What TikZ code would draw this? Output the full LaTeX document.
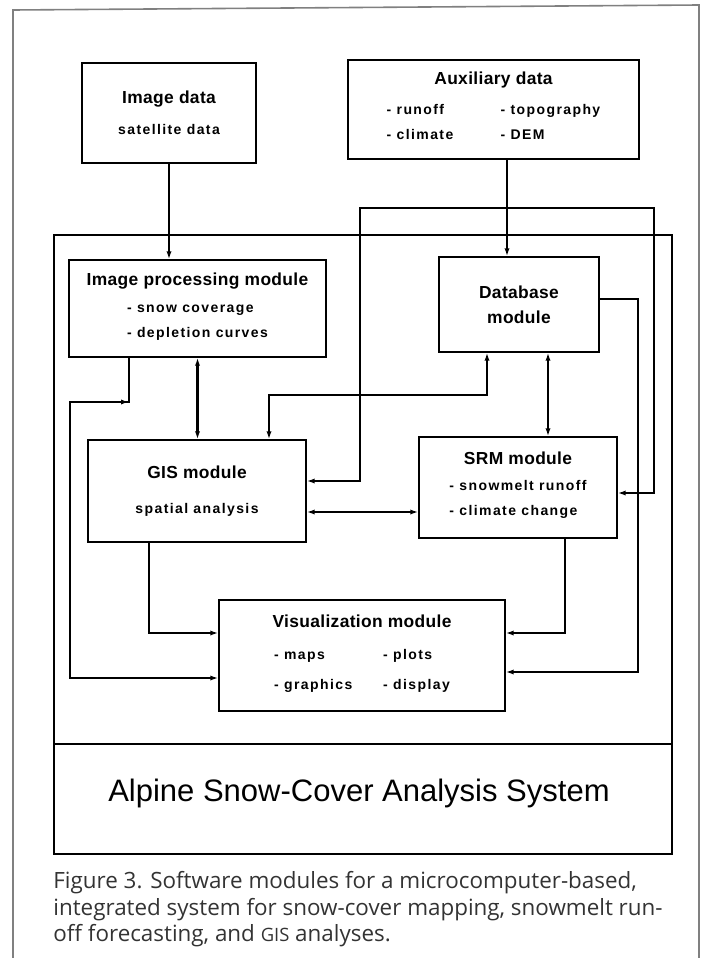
\documentclass[tikz,border=0pt]{standalone}
\usepackage{fontspec}
\usepackage{tikz}
\usetikzlibrary{arrows.meta}
\setmainfont{Liberation Sans}
\newfontfamily\titlefamily[LetterSpace=2]{Liberation Sans}
\newfontfamily\itemfamily[LetterSpace=10]{Liberation Sans}
\newfontfamily\captionfamily{Open Sans}
\newcommand{\modtitle}{\titlefamily\bfseries\fontsize{8.7}{12.5}\selectfont}
\newcommand{\moditems}{\itemfamily\bfseries\fontsize{7}{12.5}\selectfont}

\begin{document}
\begin{tikzpicture}[x=0.5pt,y=-0.5pt,>={Latex[length=4pt,width=2.6pt]},
    modbox/.style={draw, line width=0.7pt, fill=white, align=center, inner sep=0pt, font=\moditems},
    link/.style={line width=1.1pt},
    sysframe/.style={line width=1.4pt},
    pageframe/.style={draw=black!50, line width=0.8pt}]
        \useasboundingbox (0,0) rectangle (705,958);
        % page and system frames
        \draw[pageframe] (13,958) -- (13,10) -- (699,5) -- (699,958);
        \draw[sysframe] (54,235) rectangle (672,854);
        \draw[sysframe] (54,744) -- (672,744);
        \node[font=\fontsize{15.5}{18}\selectfont, anchor=base] (system) at (359,801) {Alpine Snow-Cover Analysis System};
        % data sources
        \node[modbox, minimum width=87pt, minimum height=50pt] (imgdata) at (169,113) {{\modtitle Image data}\\[3pt] satellite data};
        \node[modbox, minimum width=145.5pt, minimum height=49.5pt] (auxdata) at (493.5,109.5) {{\modtitle Auxiliary data}\\[2.5pt]
            \begin{tabular}[t]{@{}l@{}}\makebox[57pt][l]{- runoff}- topography\\ \makebox[57pt][l]{- climate}- DEM\end{tabular}};
        % modules
        \node[modbox, minimum width=128.5pt, minimum height=48.5pt] (imgproc) at (197.5,308.5) {{\modtitle Image processing module}\\[1pt]
            \begin{tabular}[t]{@{}l@{}}- snow coverage\\ - depletion curves\end{tabular}};
        \node[modbox, minimum width=80pt, minimum height=47.5pt, font=\modtitle] (database) at (519,304.5) {Database\\ module};
        \node[modbox, minimum width=109pt, minimum height=51pt] (gis) at (197,491) {{\modtitle GIS module}\\[5pt] spatial analysis};
        \node[modbox, minimum width=99pt, minimum height=50.5pt] (srm) at (518,487.5) {{\modtitle SRM module}\\[0.5pt]
            \begin{tabular}[t]{@{}l@{}}- snowmelt runoff\\ - climate change\end{tabular}};
        \node[modbox, minimum width=143pt, minimum height=55.5pt] (viz) at (362,655.5) {{\modtitle Visualization module}\\[3.5pt]
            \begin{tabular}[t]{@{}l@{}}\makebox[54.5pt][l]{- maps}- plots\\[2.5pt] \makebox[54.5pt][l]{- graphics}- display\end{tabular}};
        % routing points
        \coordinate (auxtap) at (507,208);
        \coordinate (loopL) at (360,208);
        \coordinate (loopR) at (654,208);
        \coordinate (ipbend) at (129,402);
        \coordinate (ipleft) at (70,402);
        \coordinate (gsrow) at (0,512);
        % connectors
        \draw[link,->] (imgdata.south) -- (imgdata.south |- imgproc.north);
        \draw[link,->] (auxdata.south -| auxtap) -- (database.north -| auxtap);
        \draw[link,->] (auxtap) -- (loopL) |- ([yshift=5pt]gis.east);
        \draw[link,->] (auxtap) -- (loopR) |- ([yshift=-2.75pt]srm.east);
        \draw[link,<->] (imgproc.south) -- (imgproc.south |- gis.north);
        \draw[link,<->] ([xshift=36pt]gis.north) |- ([xshift=-16pt,yshift=-21pt]database.south) -- ([xshift=-16pt]database.south);
        \draw[link,<->] ([xshift=14.5pt]database.south) -- ([xshift=15pt]srm.north);
        \draw[link,<->] (gis.east |- gsrow) -- (srm.west |- gsrow);
        \draw[link,->] (imgproc.south -| ipbend) -- (ipbend) -- (ipleft) |- ([yshift=-11.25pt]viz.west);
        \draw[link,->] (ipleft) -- (ipbend);
        \draw[link,->] ([xshift=-24pt]gis.south) |- ([yshift=11.25pt]viz.west);
        \draw[link,->] ([xshift=23.5pt]srm.south) |- ([yshift=11.25pt]viz.east);
        \draw[link,->] ([yshift=2.75pt]database.east) -| ([xshift=66pt,yshift=-8.25pt]viz.east) -- ([yshift=-8.25pt]viz.east);
        % caption
        \node[anchor=north west, inner sep=0pt, align=left, text=black!80, font=\captionfamily\fontsize{11.2}{13.3}\selectfont] (caption) at (53,871) {Figure 3. Software modules for a microcomputer-based,\\ integrated system for snow-cover mapping, snowmelt run-\\ off forecasting, and {\fontsize{9.2}{13.3}\selectfont GIS} analyses.};
      \end{tikzpicture}
\end{document}
